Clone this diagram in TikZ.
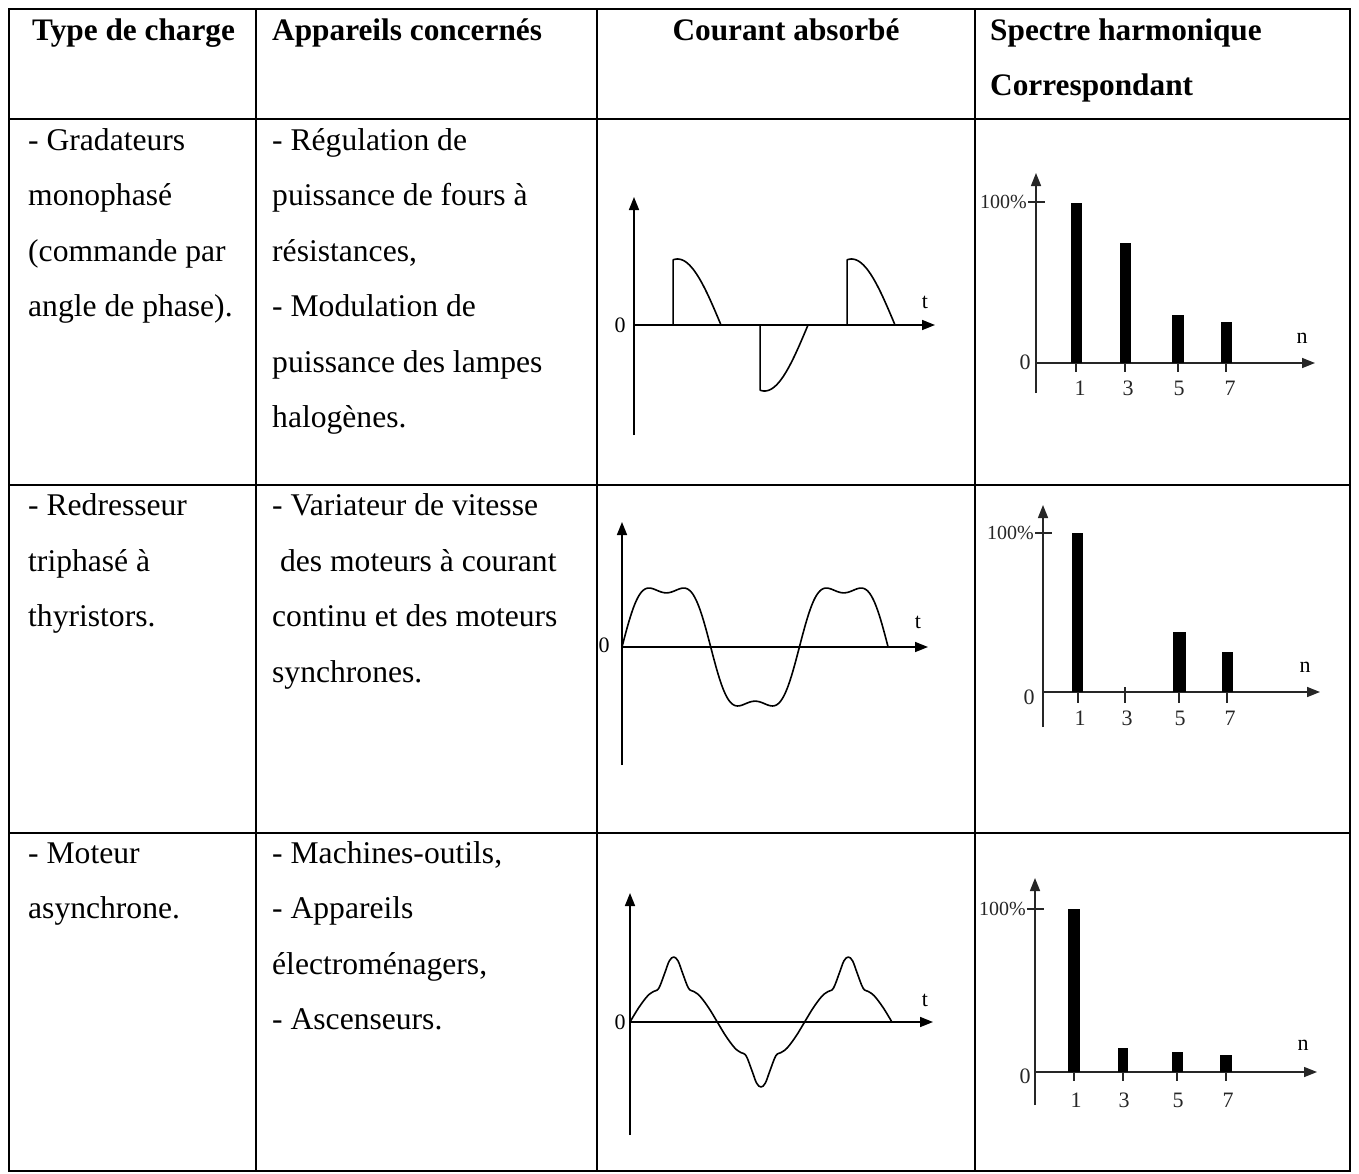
\documentclass[tikz,border=0pt]{standalone}
\usepackage{fontspec}
\setmainfont{Liberation Serif}
\usetikzlibrary{arrows.meta}
\begin{document}
\begin{tikzpicture}[x=1pt,y=-1pt,
  gridline/.style={line width=2pt},
  txt/.style={font=\fontsize{31.6pt}{55.5pt}\selectfont, inner sep=0pt, anchor=base west},
  hdr/.style={font=\fontsize{31.3pt}{55.5pt}\selectfont\bfseries, inner sep=0pt, anchor=base west},
  axis/.style={line width=1.6pt, -{Triangle[length=13pt,width=10pt]}},
  saxis/.style={line width=1.5pt, black!85, -{Triangle[length=13pt,width=10pt]}},
  tick/.style={line width=1.5pt, black!85},
  wave/.style={line width=1.6pt, line join=round},
  bar/.style={fill=black},
  lbl/.style={font=\fontsize{22pt}{22pt}\selectfont, inner sep=0pt},
  slbl/.style={font=\fontsize{22pt}{22pt}\selectfont, inner sep=0pt, text=black!85},
  plbl/.style={font=\fontsize{20pt}{20pt}\selectfont, inner sep=0pt, text=black!85},
]
\useasboundingbox (0,0) rectangle (1359,1173);
\fill[white] (0,0) rectangle (1359,1173);

% ---------- table grid ----------
\draw[gridline] (9,9) rectangle (1350,1171);
\foreach \xx in {256,597,975} \draw[gridline] (\xx,9) -- (\xx,1171);
\foreach \yy in {119,485,833} \draw[gridline] (9,\yy) -- (1350,\yy);

% ---------- header ----------
\node[hdr] (h1) at (32,40) {Type de charge};
\node[hdr] (h2) at (272,40) {Appareils concernés};
\node[hdr, anchor=base] (h3) at (786,40) {Courant absorbé};
\node[hdr] (h4a) at (990,40) {Spectre harmonique};
\node[hdr] (h4b) at (990,95.5) {Correspondant};

% ---------- row 1 ----------
\node[txt] (r1a1) at (28,150) {- Gradateurs};
\node[txt] (r1a2) at (28,205.5) {monophasé};
\node[txt] (r1a3) at (28,261) {(commande par};
\node[txt] (r1a4) at (28,316.5) {angle de phase).};
\node[txt] (r1b1) at (272,150) {- Régulation de};
\node[txt] (r1b2) at (272,205.5) {puissance de fours à};
\node[txt] (r1b3) at (272,261) {résistances,};
\node[txt] (r1b4) at (272,316.5) {- Modulation de};
\node[txt] (r1b5) at (272,372) {puissance des lampes};
\node[txt] (r1b6) at (272,427.5) {halogènes.};

% ---------- row 2 ----------
\node[txt] (r2a1) at (28,515.5) {- Redresseur};
\node[txt] (r2a2) at (28,571) {triphasé à};
\node[txt] (r2a3) at (28,626.5) {thyristors.};
\node[txt] (r2b1) at (272,515.5) {- Variateur de vitesse};
\node[txt] (r2b2) at (272,571) {\ des moteurs à courant};
\node[txt] (r2b3) at (272,626.5) {continu et des moteurs};
\node[txt] (r2b4) at (272,682) {synchrones.};

% ---------- row 3 ----------
\node[txt] (r3a1) at (28,863) {- Moteur};
\node[txt] (r3a2) at (28,918.5) {asynchrone.};
\node[txt] (r3b1) at (272,863) {- Machines-outils,};
\node[txt] (r3b2) at (272,918.5) {- Appareils};
\node[txt] (r3b3) at (272,974) {électroménagers,};
\node[txt] (r3b4) at (272,1029.5) {- Ascenseurs.};

% ---------- current waveform 1 ----------
\coordinate (w1o) at (634,325);
\coordinate (w1b) at (634,435);
\coordinate (w1t) at (634,197);
\coordinate (w1r) at (935,325);
\draw[axis] (w1b) -- (w1t);
\draw[axis] (w1o) -- (w1r);
\node[lbl] (w1zero) at (620,325) {0};
\node[lbl] (w1tl) at (925,302) {t};
\draw[wave] ({634+81/180*87},325) -- plot[domain=81:180,samples=40] ({634+\x/180*87},{325-66*sin(\x)});
\draw[wave] ({634+261/180*87},325) -- plot[domain=261:360,samples=40] ({634+\x/180*87},{325-66*sin(\x)});
\draw[wave] ({634+441/180*87},325) -- plot[domain=441:540,samples=40] ({634+\x/180*87},{325-66*sin(\x)});

% ---------- current waveform 2 ----------
\coordinate (w2o) at (622,647);
\coordinate (w2b) at (622,765);
\coordinate (w2t) at (622,522);
\coordinate (w2r) at (928,647);
\draw[axis] (w2b) -- (w2t);
\draw[axis] (w2o) -- (w2r);
\node[lbl] (w2zero) at (604,645) {0};
\node[lbl] (w2tl) at (918,622) {t};
\draw[wave] plot[domain=0:540,samples=220] ({622+\x/180*88.7},{647-67.7*(sin(\x)+0.2*sin(3*\x))});

% ---------- current waveform 3 ----------
\coordinate (w3o) at (630,1022);
\coordinate (w3b) at (630,1135);
\coordinate (w3t) at (630,893);
\coordinate (w3r) at (933,1022);
\draw[axis] (w3b) -- (w3t);
\draw[axis] (w3o) -- (w3r);
\node[lbl] (w3zero) at (620,1022) {0};
\node[lbl] (w3tl) at (925,1000) {t};
\draw[wave] plot[smooth,tension=0.6] coordinates {
 (630,1022) (638.7,1007.7) (647.5,996) (653.6,991.45) (658.8,988.2) (664.9,972.6) (669.3,960.9) (673.7,957) (678.0,960.9) (682.4,972.6) (688.5,988.2) (693.7,991.45) (699.8,996) (708.6,1007.7)
 (717.3,1022) (726.0,1036.3) (734.8,1048) (740.9,1052.55) (746.1,1055.8) (752.2,1071.4) (756.6,1083.1) (761.0,1087) (765.3,1083.1) (769.7,1071.4) (775.8,1055.8) (781.0,1052.55) (787.1,1048) (795.9,1036.3)
 (804.6,1022) (813.3,1007.7) (822.1,996) (828.2,991.45) (833.4,988.2) (839.5,972.6) (843.9,960.9) (848.3,957) (852.6,960.9) (857.0,972.6) (863.1,988.2) (868.3,991.45) (874.4,996) (883.2,1007.7) (891.9,1022)};

% ---------- spectrum 1 ----------
\coordinate (s1o) at (1036,363);
\coordinate (s1b) at (1036,393);
\coordinate (s1t) at (1036,173);
\coordinate (s1r) at (1315,363);
\draw[saxis] (s1b) -- (s1t);
\draw[saxis] (s1o) -- (s1r);
\draw[tick] (1028,202) -- (1045,202);
\node[plbl, anchor=east] (s1p) at (1027,202) {100\%};
\node[slbl] (s1zero) at (1025,362) {0};
\node[lbl] (s1n) at (1302,338) {n};
\fill[bar] (1071,363) rectangle (1082,203);
\fill[bar] (1120,363) rectangle (1131,243);
\fill[bar] (1172,363) rectangle (1184,315);
\fill[bar] (1221,363) rectangle (1232,322);
\foreach \xx in {1076,1125,1178,1226} \draw[tick] (\xx,363) -- (\xx,372);
\node[slbl] (s1l1) at (1080,388) {1};
\node[slbl] (s1l3) at (1128,388) {3};
\node[slbl] (s1l5) at (1179,388) {5};
\node[slbl] (s1l7) at (1230,388) {7};

% ---------- spectrum 2 ----------
\coordinate (s2o) at (1043,692);
\coordinate (s2b) at (1043,727);
\coordinate (s2t) at (1043,505);
\coordinate (s2r) at (1320,692);
\draw[saxis] (s2b) -- (s2t);
\draw[saxis] (s2o) -- (s2r);
\draw[tick] (1035,533) -- (1052,533);
\node[plbl, anchor=east] (s2p) at (1034,533) {100\%};
\node[slbl] (s2zero) at (1029,697) {0};
\node[lbl] (s2n) at (1305,667) {n};
\fill[bar] (1072,692) rectangle (1083,533);
\fill[bar] (1173,692) rectangle (1186,632);
\fill[bar] (1222,692) rectangle (1233,652);
\foreach \xx in {1078,1179,1227} \draw[tick] (\xx,692) -- (\xx,703);
\draw[tick] (1125,687) -- (1125,703);
\node[slbl] (s2l1) at (1080,718) {1};
\node[slbl] (s2l3) at (1127,718) {3};
\node[slbl] (s2l5) at (1180,718) {5};
\node[slbl] (s2l7) at (1230,718) {7};

% ---------- spectrum 3 ----------
\coordinate (s3o) at (1035,1072);
\coordinate (s3b) at (1035,1105);
\coordinate (s3t) at (1035,878);
\coordinate (s3r) at (1317,1072);
\draw[saxis] (s3b) -- (s3t);
\draw[saxis] (s3o) -- (s3r);
\draw[tick] (1027,909) -- (1044,909);
\node[plbl, anchor=east] (s3p) at (1026,909) {100\%};
\node[slbl] (s3zero) at (1025,1076) {0};
\node[lbl] (s3n) at (1303,1045) {n};
\fill[bar] (1068,1072) rectangle (1080,909);
\fill[bar] (1118,1072) rectangle (1128,1048);
\fill[bar] (1172,1072) rectangle (1183,1052);
\fill[bar] (1220,1072) rectangle (1232,1055);
\foreach \xx in {1074,1123,1177,1226} \draw[tick] (\xx,1072) -- (\xx,1081);
\node[slbl] (s3l1) at (1076,1100) {1};
\node[slbl] (s3l3) at (1124,1100) {3};
\node[slbl] (s3l5) at (1178,1100) {5};
\node[slbl] (s3l7) at (1228,1100) {7};
\end{tikzpicture}
\end{document}
